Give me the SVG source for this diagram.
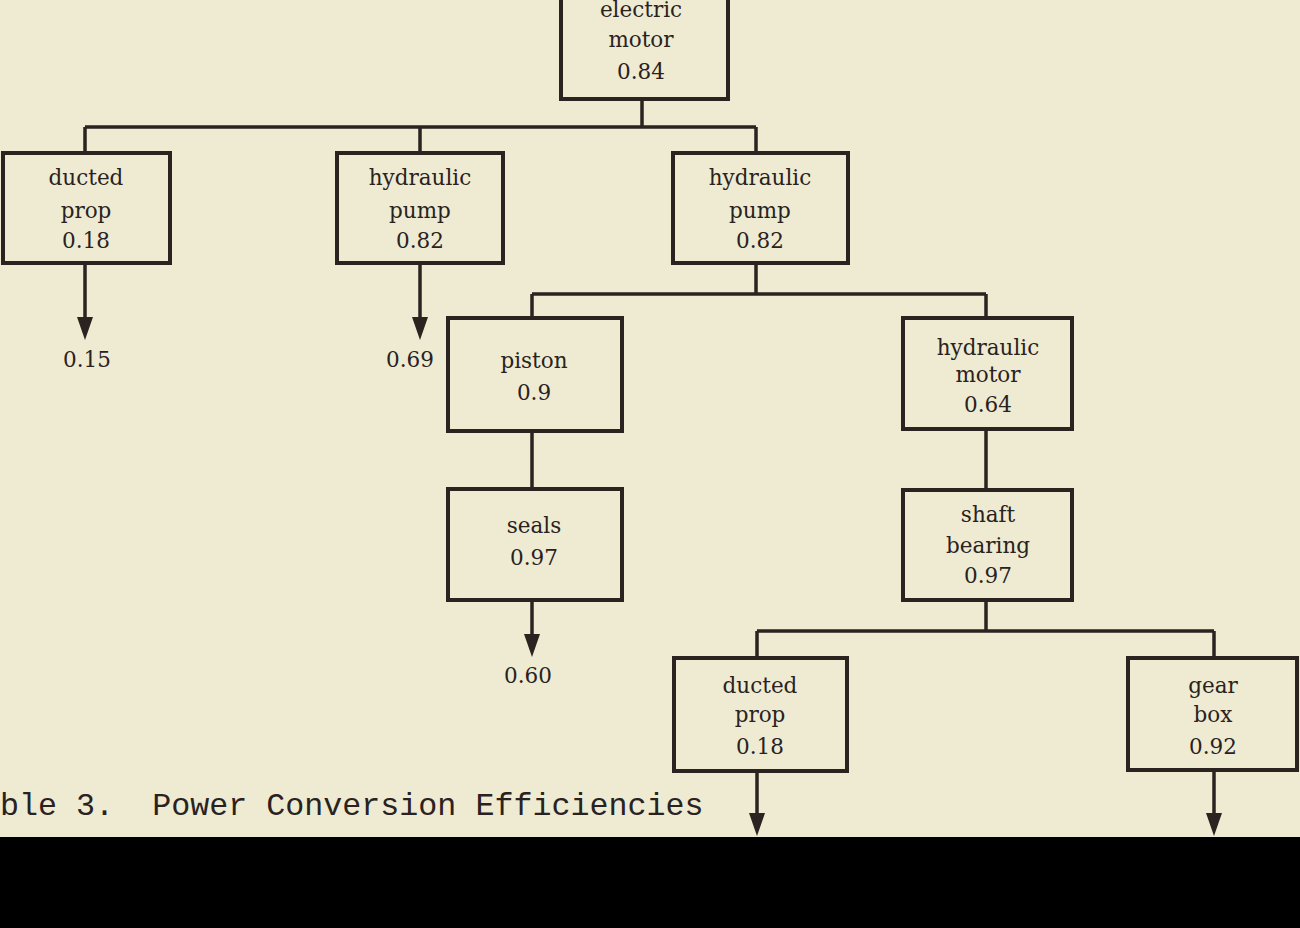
<svg xmlns="http://www.w3.org/2000/svg" width="1300" height="928" viewBox="0 0 1300 928">
<defs>
<style>
.box{fill:none;stroke:#2b2320;stroke-width:4}
.conn{fill:none;stroke:#2b2320;stroke-width:3.5}
.lbl{font-family:"DejaVu Serif","Liberation Serif",serif;font-size:21.5px;fill:#2a221e;text-anchor:middle}
.cap{font-family:"Liberation Mono","Courier New",monospace;font-size:31.7px;fill:#2a221e}
</style>
</defs>
<rect x="0" y="0" width="1300" height="928" fill="#eeebd2"/>

<g id="connectors">
<path class="conn" d="M642,99 V127 M85,127 H756 M85,127 V153 M420,127 V153 M756,127 V153"/>
<path class="conn" d="M756,263 V294 M532,294 H986 M532,294 V318 M986,294 V318"/>
<path class="conn" d="M532,431 V489 M986,429 V490"/>
<path class="conn" d="M986,600 V631 M757,631 H1214 M757,631 V658 M1214,631 V658"/>
<path class="conn" d="M85,263 V318"/>
<path d="M77,317 L93,317 L85,340 Z" fill="#2b2320"/>
<path class="conn" d="M420,263 V318"/>
<path d="M412,317 L428,317 L420,340 Z" fill="#2b2320"/>
<path class="conn" d="M532,600 V635"/>
<path d="M524,634 L540,634 L532,657 Z" fill="#2b2320"/>
<path class="conn" d="M757,771 V814"/>
<path d="M749,813 L765,813 L757,836 Z" fill="#2b2320"/>
<path class="conn" d="M1214,770 V814"/>
<path d="M1206,813 L1222,813 L1214,836 Z" fill="#2b2320"/>
</g>

<g id="electric-motor">
<rect class="box" x="561" y="-20" width="167" height="119"/>
<text class="lbl" x="641" y="17">electric</text>
<text class="lbl" x="641" y="47">motor</text>
<text class="lbl" x="641" y="79">0.84</text>
</g>

<g id="ducted-prop-1">
<rect class="box" x="3" y="153" width="167" height="110"/>
<text class="lbl" x="86" y="185">ducted</text>
<text class="lbl" x="86" y="218">prop</text>
<text class="lbl" x="86" y="248">0.18</text>
</g>
<g id="out-015"><text class="lbl" x="87" y="367">0.15</text></g>

<g id="hydraulic-pump-1">
<rect class="box" x="337" y="153" width="166" height="110"/>
<text class="lbl" x="420" y="185">hydraulic</text>
<text class="lbl" x="420" y="218">pump</text>
<text class="lbl" x="420" y="248">0.82</text>
</g>
<g id="out-069"><text class="lbl" x="410" y="367">0.69</text></g>

<g id="hydraulic-pump-2">
<rect class="box" x="673" y="153" width="175" height="110"/>
<text class="lbl" x="760" y="185">hydraulic</text>
<text class="lbl" x="760" y="218">pump</text>
<text class="lbl" x="760" y="248">0.82</text>
</g>

<g id="piston">
<rect class="box" x="448" y="318" width="174" height="113"/>
<text class="lbl" x="534" y="368">piston</text>
<text class="lbl" x="534" y="400">0.9</text>
</g>

<g id="seals">
<rect class="box" x="448" y="489" width="174" height="111"/>
<text class="lbl" x="534" y="533">seals</text>
<text class="lbl" x="534" y="565">0.97</text>
</g>
<g id="out-060"><text class="lbl" x="528" y="683">0.60</text></g>

<g id="hydraulic-motor">
<rect class="box" x="903" y="318" width="169" height="111"/>
<text class="lbl" x="988" y="355">hydraulic</text>
<text class="lbl" x="988" y="382">motor</text>
<text class="lbl" x="988" y="412">0.64</text>
</g>

<g id="shaft-bearing">
<rect class="box" x="903" y="490" width="169" height="110"/>
<text class="lbl" x="988" y="522">shaft</text>
<text class="lbl" x="988" y="553">bearing</text>
<text class="lbl" x="988" y="583">0.97</text>
</g>

<g id="ducted-prop-2">
<rect class="box" x="674" y="658" width="173" height="113"/>
<text class="lbl" x="760" y="693">ducted</text>
<text class="lbl" x="760" y="722">prop</text>
<text class="lbl" x="760" y="754">0.18</text>
</g>

<g id="gear-box">
<rect class="box" x="1128" y="658" width="169" height="112"/>
<text class="lbl" x="1213" y="693">gear</text>
<text class="lbl" x="1213" y="722">box</text>
<text class="lbl" x="1213" y="754">0.92</text>
</g>

<text class="cap" x="-19" y="815" xml:space="preserve">able 3.  Power Conversion Efficiencies</text>

<rect x="0" y="837" width="1300" height="91" fill="#000000"/>
</svg>
